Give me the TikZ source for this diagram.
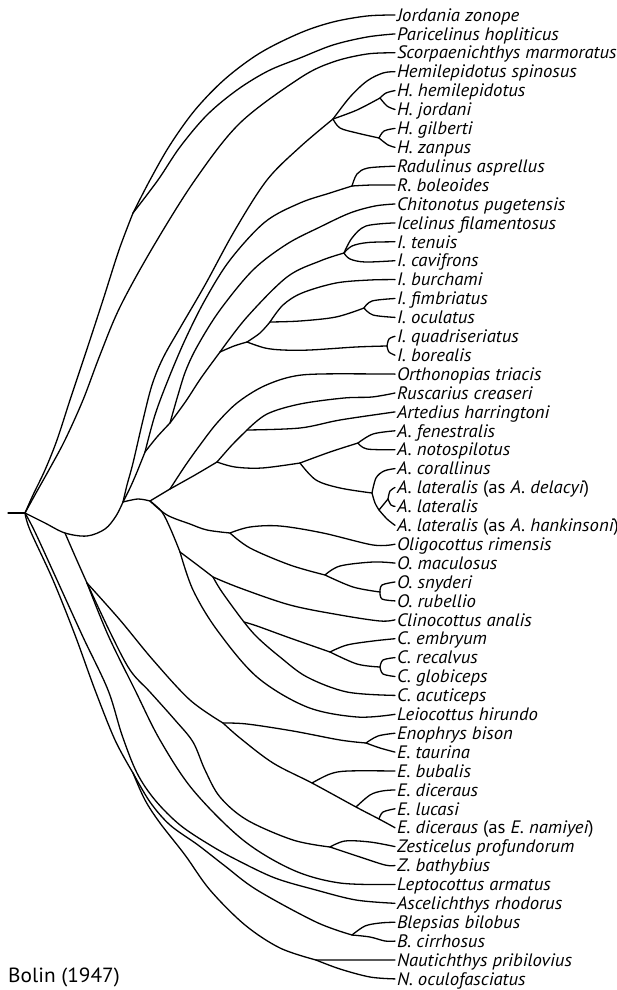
\documentclass[tikz,border=0pt]{standalone}
\usepackage{fontspec}
\setmainfont{PT Sans}
\newfontfamily\labfont[FakeStretch=1.04]{PT Sans}
\newcommand{\treebr}[1]{\draw[branch] plot[smooth,tension=0.55] coordinates {#1};}
\begin{document}
\begin{tikzpicture}[x=1pt,y=-1pt,
  branch/.style={line width=1.3pt,line cap=round,line join=round},
  lab/.style={anchor=west,inner xsep=2pt,inner ysep=0pt,outer sep=0pt,text height=12.4pt,text depth=0pt,font=\labfont\fontsize{18}{18}\selectfont\itshape}]
\useasboundingbox (0,0) rectangle (617,990);
% labels
\foreach \lbl [count=\i from 0] in {
 Jordania zonope, Paricelinus hopliticus, Scorpaenichthys marmoratus, Hemilepidotus spinosus,
 H. hemilepidotus, H. jordani, H. gilberti, H. zanpus, Radulinus asprellus, R. boleoides,
 Chitonotus pugetensis, Icelinus filamentosus, I. tenuis, I. cavifrons, I. burchami,
 I. fimbriatus, I. oculatus, I. quadriseriatus, I. borealis, Orthonopias triacis,
 Ruscarius creaseri, Artedius harringtoni, A. fenestralis, A. notospilotus, A. corallinus,
 {A. lateralis {\upshape(as} A. delacyi{\upshape)}}, A. lateralis,
 {A. lateralis {\upshape(as} A. hankinsoni{\upshape)}}, Oligocottus rimensis,
 O. maculosus, O. snyderi, O. rubellio, Clinocottus analis, C. embryum, C. recalvus,
 C. globiceps, C. acuticeps, Leiocottus hirundo, Enophrys bison, E. taurina, E. bubalis,
 E. diceraus, E. lucasi, {E. diceraus {\upshape(as} E. namiyei{\upshape)}},
 Zesticelus profundorum, Z. bathybius, Leptocottus armatus, Ascelichthys rhodorus,
 Blepsias bilobus, B. cirrhosus, Nautichthys pribilovius, N. oculofasciatus}
 \node[lab] (t\i) at (395,{15+18.9*\i}) {\lbl};
\node[anchor=base west,inner sep=0pt,font=\labfont\fontsize{20.5}{20.5}\selectfont] (bolin) at (8,982) {Bolin (1947)};
% internal nodes
\coordinate (rs) at (8,513);
\coordinate (R0) at (25,513);
\coordinate (JP) at (133,213);
\coordinate (A) at (65,533);
\coordinate (B) at (123,502);
\coordinate (H0) at (333,119);
\coordinate (H1) at (380,98);
\coordinate (H2) at (379,138);
\coordinate (HR) at (145,452);
\coordinate (RA) at (352,186);
\coordinate (CI) at (170,423);
\coordinate (P) at (220,352);
\coordinate (IF) at (344,253);
\coordinate (Q) at (247,342);
\coordinate (S) at (270,322);
\coordinate (IFO) at (364,308);
\coordinate (IQB) at (387,346);
\coordinate (D) at (150,501);
\coordinate (D2) at (170,489);
\coordinate (Art0) at (217,462);
\coordinate (Art1) at (247,430);
\coordinate (Art2) at (300,463);
\coordinate (Fen) at (358,443);
\coordinate (Cor) at (372,493);
\coordinate (L1) at (379,510);
\coordinate (L2) at (388,499);
\coordinate (R1) at (230,533);
\coordinate (R2) at (325,575);
\coordinate (R3) at (380,592);
\coordinate (C1) at (180,552);
\coordinate (C2) at (213,577);
\coordinate (C3) at (244,622);
\coordinate (C4) at (330,652);
\coordinate (C5) at (380,667);
\coordinate (Cn) at (87,583);
\coordinate (E0) at (223,723);
\coordinate (Ebt) at (366,743);
\coordinate (E1) at (312,783);
\coordinate (E2) at (356,807);
\coordinate (E3) at (379,819);
\coordinate (Z0) at (330,847);
\coordinate (BN) at (133,773);
\coordinate (BB) at (352,935);
\coordinate (NN) at (316,960);
% root
\draw[branch] (rs) -- (R0);
% top lineages
\treebr{(R0) (33,495) (45,470) (57,440) (70,400) (86,352) (103,300) (119,250) (JP)}
\treebr{(JP) (150,180) (170,145) (195,110) (225,79) (260,53) (300,33) (333,22) (367,16) (t0.west)}
\treebr{(JP) (158,180) (180,147) (207,115) (237,90) (268,71) (300,58) (333,45) (367,37) (t1.west)}
\treebr{(R0) (36,493) (50,468) (65,440) (83,400) (100,355) (120,307) (153,247) (195,180) (240,123) (300,78) (333,62) (367,54) (t2.west)}
% arc to B
\treebr{(R0) (45,523) (A) (87,536) (105,529) (116,516) (B)}
% Hemilepidotus
\treebr{(B) (127,485) (133,463) (143,420) (152,385) (163,358) (180,328) (205,285) (235,230) (267,180) (300,147) (H0)}
\treebr{(H0) (350,97) (367,81) (383,73) (t3.west)}
\treebr{(H0) (357,110) (H1)}
\treebr{(H1) (386,93) (t4.west)}
\treebr{(H1) (387,106) (t5.west)}
\treebr{(H0) (340,128) (357,133) (H2)}
\treebr{(H2) (384,131) (t6.west)}
\treebr{(H2) (388,145) (t7.west)}
% Radulinus, Chitonotus, Icelinus
\treebr{(B) (130,488) (137,472) (HR)}
\treebr{(HR) (155,415) (168,380) (185,340) (205,300) (230,260) (265,222) (300,203) (330,193) (RA)}
\treebr{(RA) (357,174) (368,168) (t8.west)}
\treebr{(RA) (372,185) (t9.west)}
\treebr{(HR) (157,437) (CI)}
\treebr{(CI) (178,395) (186,370) (198,345) (220,310) (253,270) (287,244) (320,227) (350,213) (375,206) (t10.west)}
\treebr{(CI) (186,401) (201,378) (P)}
\treebr{(P) (247,317) (287,277) (320,261) (IF)}
\treebr{(IF) (352,238) (366,226) (t11.west)}
\treebr{(IF) (352,246) (368,242.5) (t12.west)}
\treebr{(IF) (350,259) (365,262) (t13.west)}
\treebr{(P) (234,346) (Q)}
\treebr{(Q) (260,333) (S)}
\treebr{(S) (283,305) (302,293) (336,283) (370,280) (t14.west)}
\treebr{(S) (300,321) (336,317) (IFO)}
\treebr{(IFO) (372,301) (t15.west)}
\treebr{(IFO) (373,315) (t16.west)}
\treebr{(Q) (265,348) (283,350) (310,350) (356,347) (IQB)}
\treebr{(IQB) (389,339) (t17.west)}
\treebr{(IQB) (389,352) (t18.west)}
% D clade
\treebr{(B) (138,499) (D)}
\treebr{(D) (160,495) (D2)}
\treebr{(D2) (185,466) (200,445) (217,423) (237,403) (262,387) (290,377) (320,374) (t19.west)}
\treebr{(D2) (195,475) (Art0)}
\treebr{(Art0) (232,445) (Art1)}
\treebr{(Art1) (267,414) (300,404) (344,398) (372,397) (t20.west)}
\treebr{(Art1) (300,428) (340,420) (t21.west)}
\treebr{(Art0) (235,467) (262,468) (Art2)}
\treebr{(Art2) (330,452) (Fen)}
\treebr{(Fen) (373,434) (t22.west)}
\treebr{(Fen) (367,449) (t23.west)}
\treebr{(Art2) (316,480) (340,488) (Cor)}
\treebr{(Cor) (376,478) (384,471) (t24.west)}
\treebr{(Cor) (375,503) (L1)}
\treebr{(L1) (387,519) (t27.west)}
\treebr{(L1) (L2)}
\treebr{(L2) (390,491) (t25.west)}
\treebr{(L2) (391,505) (t26.west)}
% Oligocottus
\treebr{(D) (167,515) (190,524) (207,530) (R1)}
\treebr{(R1) (250,527) (280,526) (323,533) (373,545) (t28.west)}
\treebr{(R1) (250,548) (290,565) (R2)}
\treebr{(R2) (340,566) (373,562) (t29.west)}
\treebr{(R2) (353,587) (R3)}
\treebr{(R3) (382,585) (t30.west)}
\treebr{(R3) (382,599) (t31.west)}
% Clinocottus, Leiocottus
\treebr{(D) (162,512) (171,530) (C1)}
\treebr{(C1) (200,567) (C2)}
\treebr{(C2) (240,588) (290,605) (340,615) (380,621) (t32.west)}
\treebr{(C2) (222,592) (C3) (258,638) (280,657) (307,677) (347,692) (t36.west)}
\treebr{(C3) (257,626) (290,638) (C4)}
\treebr{(C4) (347,645) (373,641) (t33.west)}
\treebr{(C4) (357,664) (C5)}
\treebr{(C5) (383,660) (t34.west)}
\treebr{(C5) (383,674) (t35.west)}
\treebr{(C1) (193,590) (217,630) (257,677) (307,707) (357,717) (t37.west)}
% lower clade
\treebr{(A) (75,556) (Cn)}
\treebr{(Cn) (120,620) (153,660) (190,700) (E0)}
\treebr{(E0) (247,724) (293,731) (340,740) (Ebt)}
\treebr{(Ebt) (378,736) (t38.west)}
\treebr{(Ebt) (380,748) (t39.west)}
\treebr{(E0) (240,738) (273,763) (E1) (E2) (E3) (t43.west)}
\treebr{(E1) (330,774) (348,771) (t40.west)}
\treebr{(E2) (370,795) (382,791) (t41.west)}
\treebr{(E3) (383,812) (t42.west)}
\treebr{(Cn) (110,632) (130,670) (150,692) (175,720) (193,742) (205,770) (220,797) (247,820) (293,840) (Z0)}
\treebr{(Z0) (345,841) (370,842) (t44.west)}
\treebr{(Z0) (360,857) (385,865) (t45.west)}
\treebr{(Cn) (108,635) (135,690) (160,740) (193,790) (243,840) (293,870) (340,883) (t46.west)}
\treebr{(R0) (30,530) (53,580) (75,635) (95,690) (115,740) (BN)}
\treebr{(R0) (35,532) (57,580) (83,637) (108,690) (122,735) (137,773) (155,800) (180,825) (210,845) (237,860) (275,878) (316,890) (356,900) (t47.west)}
\treebr{(BN) (150,802) (170,825) (198,845) (225,866) (257,890) (316,922) (BB)}
\treebr{(BB) (365,926) (380,923) (t48.west)}
\treebr{(BB) (370,937) (385,941) (t49.west)}
\treebr{(BN) (145,800) (160,823) (185,855) (210,890) (245,925) (280,948) (NN)}
\draw[branch] (NN) -- (t50.west);
\treebr{(NN) (340,969) (370,977) (t51.west)}
\end{tikzpicture}
\end{document}
